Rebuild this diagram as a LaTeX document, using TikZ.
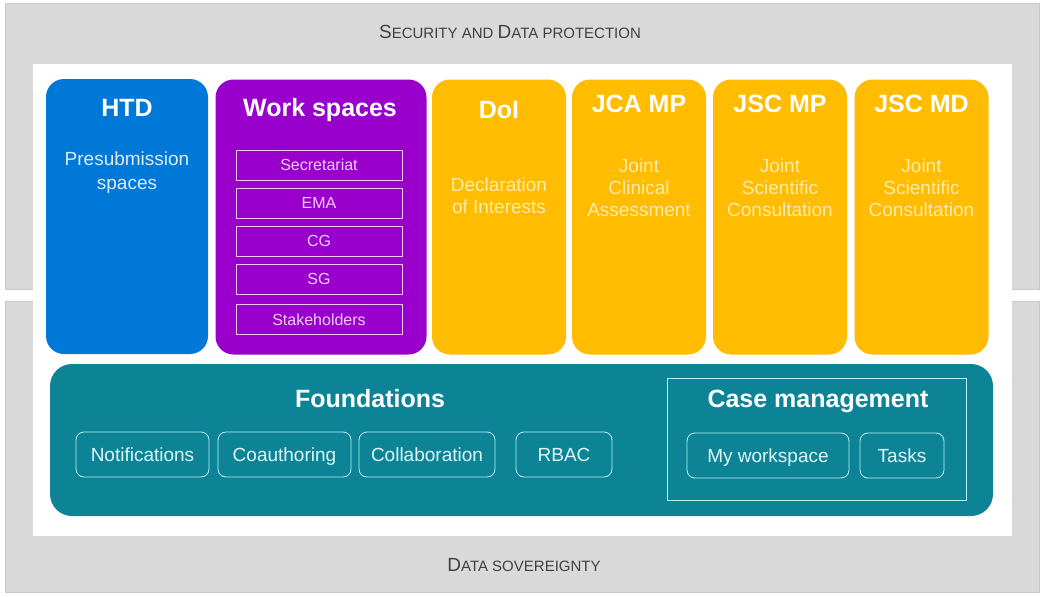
\documentclass[tikz,border=0pt]{standalone}
\usepackage{fontspec}
\setmainfont{Liberation Sans}
\usetikzlibrary{positioning}
\definecolor{framegray}{RGB}{217,217,217}
\definecolor{frameedge}{RGB}{200,200,200}
\definecolor{labelgray}{RGB}{64,64,64}
\definecolor{htdblue}{RGB}{0,120,215}
\definecolor{wspurple}{RGB}{153,0,204}
\definecolor{wstext}{RGB}{242,205,250}
\definecolor{bluetext}{RGB}{220,236,250}
\definecolor{colyellow}{RGB}{255,188,0}
\definecolor{yellowtext}{RGB}{255,236,170}
\definecolor{foundteal}{RGB}{13,132,150}
\definecolor{tealline}{RGB}{190,240,245}
\definecolor{tealtext}{RGB}{222,246,250}
\newcommand{\scletter}[1]{{\fontsize{19pt}{19pt}\selectfont #1}}
\begin{document}
\begin{tikzpicture}[x=1pt,y=-1pt,
    column/.style={rounded corners=18pt,minimum height=275pt,inner sep=0pt},
    coltitle/.style={text=white,font=\fontsize{25pt}{25pt}\selectfont\bfseries,
        text height=18pt,text depth=0pt,inner sep=0pt},
    colsub/.style={align=center,font=\fontsize{19pt}{22pt}\selectfont},
    wsbox/.style={draw=wstext,thick,text=wstext,minimum width=166pt,minimum height=30pt,
        inner sep=0pt,text height=11.5pt,text depth=0pt,font=\fontsize{16pt}{16pt}\selectfont},
    tealbtn/.style={draw=tealline,thick,rounded corners=8pt,text=tealtext,minimum height=45pt,
        inner sep=0pt,text height=13.6pt,text depth=0pt,font=\fontsize{19pt}{19pt}\selectfont},
    layer/.style={text=labelgray,text height=13.6pt,text depth=0pt,inner sep=0pt,
        font=\fontsize{15pt}{15pt}\selectfont}]
    \useasboundingbox (0,0) rectangle (1042,597);
    %% frames
    \filldraw[fill=framegray,draw=frameedge] (5,3) rectangle (1039,289);
    \filldraw[fill=framegray,draw=frameedge] (5,301) rectangle (1039,592);
    \fill[white] (33,64) rectangle (1012,536);
    \node[layer] (security) at (510,32) {\scletter{S}ECURITY AND \scletter{D}ATA PROTECTION};
    \node[layer] (sovereignty) at (524,565) {\scletter{D}ATA SOVEREIGNTY};
    %% HTD
    \node[column,fill=htdblue,minimum width=162pt] (htd) at (127,216.5) {};
    \node[coltitle] (htd-title) at (127,107) {HTD};
    \node[colsub,text=bluetext,font=\fontsize{19pt}{24pt}\selectfont] (htd-sub) at (127,173) {Presubmission\\spaces};
    %% work spaces
    \node[column,fill=wspurple,minimum width=211pt] (ws) at (321,217) {};
    \node[coltitle] (ws-title) at (320,107) {Work spaces};
    \foreach \y/\t in {165/Secretariat,203/EMA,241/CG,279/SG,319.5/Stakeholders}
        \node[wsbox] (ws-\t) at (319,\y) {\t};
    %% yellow columns
    \foreach \x/\n/\ty/\t/\sy/\s in {499/DoI/109/DoI/196/Declaration\\of Interests,
            639/JCAMP/103/JCA MP/187.5/Joint\\Clinical\\Assessment,
            780/JSCMP/103/JSC MP/187.5/Joint\\Scientific\\Consultation,
            921.5/JSCMD/103/JSC MD/187.5/Joint\\Scientific\\Consultation}{
        \node[column,fill=colyellow,minimum width=134pt] (\n) at (\x,217) {};
        \node[coltitle] (\n-title) at (\x,\ty) {\t};
        \node[colsub,text=yellowtext] (\n-sub) at (\x,\sy) {\s};
    }
    %% foundations
    \node[fill=foundteal,rounded corners=22pt,minimum width=943pt,minimum height=152pt,inner sep=0pt]
        (found) at (521.5,440) {};
    \node[coltitle] (found-title) at (370,398) {Foundations};
    \foreach \x/\w/\t in {142.5/133/Notifications,284.5/133/Coauthoring,427/136/Collaboration,564/96/RBAC}
        \node[tealbtn,minimum width=\w pt] (found-\t) at (\x,454.5) {\t};
    %% case management
    \node[draw=tealline,thick,minimum width=299pt,minimum height=122pt,inner sep=0pt]
        (casemgmt) at (816.5,439) {};
    \node[coltitle] (casemgmt-title) at (818,398) {Case management};
    \node[tealbtn,minimum width=162pt] (myws) at (768,455.5) {My workspace};
    \node[tealbtn,minimum width=84pt] (tasks) at (902,455.5) {Tasks};
\end{tikzpicture}
\end{document}
